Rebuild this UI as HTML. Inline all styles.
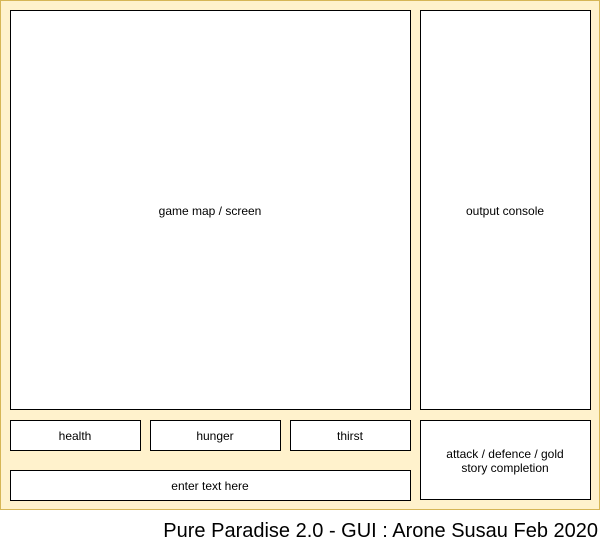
<!DOCTYPE html>
<html><head><style>body{margin:0;background:#fff}</style></head><body>
<svg width="601" height="543" xmlns="http://www.w3.org/2000/svg" font-family="Liberation Sans, Arial, sans-serif">
<rect x="0.5" y="0.5" width="599" height="509" fill="#fff2cc" stroke="#d6b656"/>
<g fill="#fff" stroke="#000">
<rect x="10.5" y="10.5" width="400" height="399"/>
<rect x="420.5" y="10.5" width="170" height="399"/>
<rect x="10.5" y="420.5" width="130" height="30"/>
<rect x="150.5" y="420.5" width="130" height="30"/>
<rect x="290.5" y="420.5" width="120" height="30"/>
<rect x="420.5" y="420.5" width="170" height="79"/>
<rect x="10.5" y="470.5" width="400" height="30"/>
</g>
<g font-size="12" text-anchor="middle" fill="#000">
<text x="210" y="215">game map / screen</text>
<text x="505" y="215">output console</text>
<text x="75" y="440">health</text>
<text x="215" y="440">hunger</text>
<text x="350" y="440">thirst</text>
<text x="505" y="458">attack / defence / gold</text>
<text x="505" y="472">story completion</text>
<text x="210" y="490">enter text here</text>
</g>
<text x="598" y="537" font-size="20" text-anchor="end">Pure Paradise 2.0 - GUI : Arone Susau Feb 2020</text>
</svg>
</body></html>
